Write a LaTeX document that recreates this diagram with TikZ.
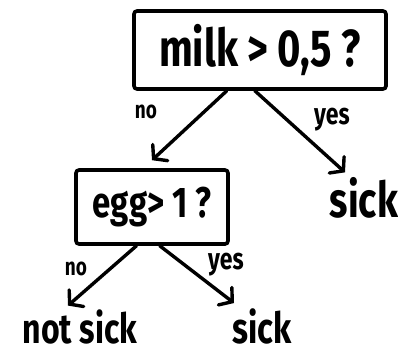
\documentclass[tikz,border=0pt]{standalone}
\usepackage{fontspec}
\setmainfont{Fira Sans}
\usetikzlibrary{arrows.meta,calc}
\newcommand{\hand}[2]{\scalebox{1}[1.3]{\fontsize{#1}{#1}\selectfont\bfseries #2}}
\tikzset{
  box/.style={draw, line width=3.6pt, rounded corners=3pt, inner sep=0pt},
  leaf/.style={inner sep=0pt},
  lab/.style={inner sep=0pt},
  arr/.style={line width=3.4pt, line cap=round, -{Straight Barb[length=9pt,width=22pt,line cap=round]}}
}
\begin{document}
\begin{tikzpicture}[x=1pt,y=-1pt]
\useasboundingbox (0,0) rectangle (398,354);
\node[box, minimum width=252pt, minimum height=78pt] (milk) at (260,50) {\hand{40}{milk > 0,5 ?}};
\node[box, minimum width=152pt, minimum height=74pt] (egg) at (152,207) {\hand{33}{egg> 1 ?}};
\node[leaf] (sick1) at (364,198) {\hand{38}{sick}};
\node[leaf] (notsick) at (80,327) {\hand{32}{not sick}};
\node[leaf] (sick2) at (262,326) {\hand{33}{sick}};
\node[lab] (no1) at (146,112) {\hand{19}{no}};
\node[lab] (yes1) at (332,120) {\hand{23}{yes}};
\node[lab] (no2) at (76,269) {\hand{19}{no}};
\node[lab] (yes2) at (226,265) {\hand{23}{yes}};
\draw[arr] ($(milk.south west)!0.37!(milk.south east)$) -- ([yshift=8pt]egg.north);
\draw[arr] ($(milk.south west)!0.48!(milk.south east)$) -- ([xshift=-19pt,yshift=5pt]sick1.north);
\draw[arr] ($(egg.south west)!0.40!(egg.south east)$) -- ([xshift=-12pt,yshift=4pt]notsick.north);
\draw[arr] ($(egg.south west)!0.55!(egg.south east)$) -- ([xshift=-28pt,yshift=5pt]sick2.north);
\end{tikzpicture}
\end{document}
